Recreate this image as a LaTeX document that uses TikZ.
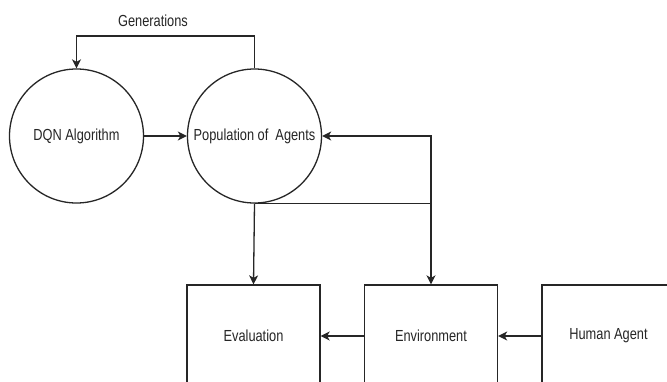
\documentclass[tikz,border=0pt]{standalone}
\usepackage{fontspec}
\setmainfont[FakeStretch=0.8]{Liberation Sans}
\usetikzlibrary{arrows.meta}
\begin{document}
\begin{tikzpicture}[x=1pt,y=-1pt,
  lbl/.style={font=\fontsize{16}{19}\selectfont, text=black!85},
  circ/.style={draw=black!85, line width=1.3pt, circle, minimum size=134pt, inner sep=0pt, lbl},
  boxn/.style={draw=black!85, line width=1.3pt, rectangle, minimum width=133pt, minimum height=102pt, inner sep=0pt, lbl},
  conn/.style={draw=black!85, line width=1.3pt},
  arr/.style={conn, -{Stealth[length=9pt,width=9pt,inset=2.5pt]}}]
\useasboundingbox (0,0) rectangle (667,381);
\clip (0,0) rectangle (667,381);
\fill[white] (0,0) rectangle (667,381);
\node[circ] (dqn) at (76.5,136) {DQN Algorithm};
\node[circ] (pop) at (254.5,136) {Population of\ \ Agents};
\node[boxn] (eval) at (253.5,336) {Evaluation};
\node[boxn] (env) at (431,336) {Environment};
\node[boxn] (human) at (608.5,336) {Human Agent};
\node[lbl] (gen) at (153,21) {Generations};
\coordinate (top) at (0,36);
\coordinate (j) at (env.north |- pop.south);
\draw[arr] (pop.north) -- (pop.north |- top) -| (dqn.north);
\draw[arr] (dqn.east) -- (pop.west);
\draw[arr] (pop.south) -- (eval.north);
\draw[conn] (pop.south) -- (j);
\draw[arr] (j) |- (pop.east);
\draw[arr] (j) -- (env.north);
\draw[arr] (env.west) -- (eval.east);
\draw[arr] (human.west) -- (env.east);
\end{tikzpicture}
\end{document}
